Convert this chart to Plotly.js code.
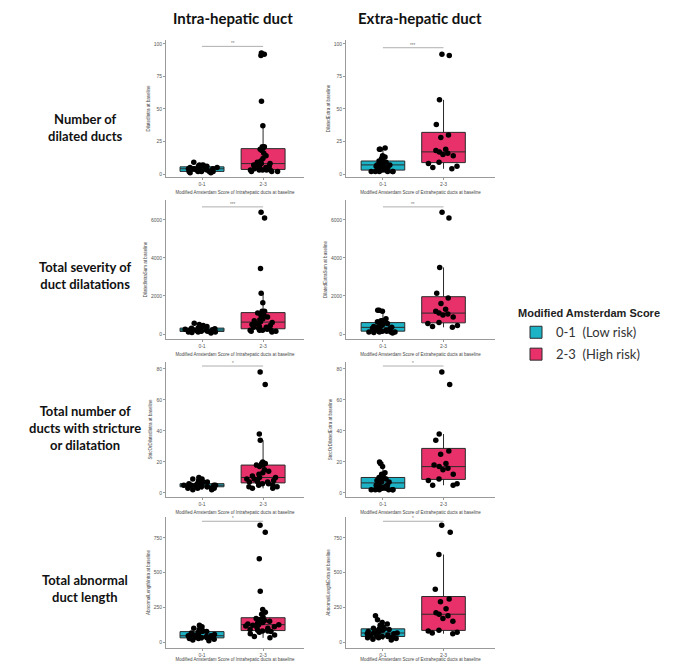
<!DOCTYPE html>
<html><head><meta charset="utf-8">
<script src="https://cdn.plot.ly/plotly-3.0.1.min.js"></script>
<style>html,body{margin:0;padding:0;background:#fff}#c{width:676px;height:662px}</style>
</head><body><div id="c"></div>
<script>
// ---- categories / labels ----
const groups = ["0-1", "2-3"];
const legendNames = ["0-1  (Low risk)", "2-3  (High risk)"];
const colTitles = ["Intra-hepatic duct", "Extra-hepatic duct"];
const rowTitles = ["Number of<br>dilated ducts", "Total severity of<br>duct dilatations",
  "Total number of<br>ducts with stricture<br>or dilatation", "Total abnormal<br>duct length"];
const yTitlesIntra = ["DilatedIntra at baseline", "DilatedIntraSum at baseline", "StricOrDilatedIntra at baseline", "AbnormalLengthIntra at baseline"];
const yTitlesExtra = ["DilatedExtra at baseline", "DilatedExtraSum at baseline", "StricOrDilatedExtra at baseline", "AbnormalLengthExtra at baseline"];
const xTitleIntra = "Modified Amsterdam Score of Intrahepatic ducts at baseline";
const xTitleExtra = "Modified Amsterdam Score of Extrahepatic ducts at baseline";
const tickVals = [[0,25,50,75,100],[0,2000,4000,6000],[0,20,40,60,80],[0,250,500,750]];
const sigIntra = ["**", "***", "*", "*"];
const sigExtra = ["***", "**", "*", "*"];

// ---- values ----
// Row 1: number of dilated ducts
const intraNumLow  = [1,1,2,2,2,2,2,3,3,3,4,4,4,4,4,5,5,5,6,6,6,7,7,9];
const intraNumHigh = [2,2,2,3,3,3,3,3,4,4,5,5,6,7,7,8,8,9,10,12,14,16,18,19,20,21,21,37,56,91,92,93];
const extraNumLow  = [2,2,2,2,2,2,3,3,3,3,5,5,5,6,6,7,7,7,8,8,9,9,10,10,10,12,13,14,19,19,20];
const extraNumHigh = [4,5,6,8,9,14,15,16,17,18,19,28,30,38,57,91,92];
// Row 2: total severity of duct dilatations
const intraSevLow  = [50,80,100,100,100,120,150,150,180,200,200,200,220,250,250,280,300,300,320,350,400,450,500,560];
const intraSevHigh = [100,150,150,200,200,200,200,250,300,350,350,400,450,500,550,600,650,700,750,800,900,950,1000,1100,1150,1200,1200,1650,2150,3450,6100,6400];
const extraSevLow  = [50,80,100,100,100,100,150,150,150,200,200,250,300,300,350,350,400,400,450,500,550,600,600,650,700,700,800,1200,1250,1250];
const extraSevHigh = [350,400,450,550,600,900,1000,1050,1100,1200,1300,1600,1900,2150,3500,6100,6400];
// Row 3: total number of ducts with stricture or dilatation
const intraStrLow  = [2,2,3,3,3,3,4,4,4,4,4,5,5,5,5,5,6,6,6,6,7,7,8,9,9,10];
const intraStrHigh = [3,3,4,4,5,5,6,6,7,7,7,8,8,9,9,10,10,11,12,13,14,15,17,18,18,19,19,20,34,38,70,78];
const extraStrLow  = [2,2,2,2,2,2,3,3,3,3,4,4,5,5,6,7,7,8,8,9,9,10,10,10,11,12,13,17,19,20];
const extraStrHigh = [5,5,6,8,9,12,15,16,17,18,19,25,27,34,38,70,78];
// Row 4: total abnormal duct length
const intraLenLow  = [10,15,20,25,25,30,30,30,35,40,40,45,45,45,50,55,60,65,70,75,75,80,90,100,110,120];
const intraLenHigh = [30,40,50,60,70,75,80,80,85,90,100,105,110,115,120,125,125,130,135,140,150,155,160,170,180,200,215,235,365,600,790,840];
const extraLenLow  = [15,20,25,30,30,35,40,40,40,45,50,55,60,60,65,65,70,75,80,85,90,95,95,100,110,120,130,140,160,190];
const extraLenHigh = [60,65,70,80,85,150,170,190,200,210,240,290,310,380,630,790,840];

const panels = [
  [[intraNumLow, intraNumHigh], [extraNumLow, extraNumHigh]],
  [[intraSevLow, intraSevHigh], [extraSevLow, extraSevHigh]],
  [[intraStrLow, intraStrHigh], [extraStrLow, extraStrHigh]],
  [[intraLenLow, intraLenHigh], [extraLenLow, extraLenHigh]]
];

// ---- layout geometry (pixels) ----
const W = 676, H = 662;
const colPx = [[166, 304], [346, 495]];
const colRange = [[-0.59, 1.67], [-0.61, 1.85]];
const rowPx = [[40, 177], [200, 339], [362, 497], [517, 648]];
const rowRange = [[-2.3, 103], [-263, 7050], [-2.6, 84.5], [-43, 900]];
const bracketFactor = [1.055, 1.045, 1.05, 1.035];
const fills = ["#1db3c6", "#e8316b"];

const traces = [];
const layout = {
  width: W, height: H, margin: {l: 0, r: 0, t: 0, b: 0},
  paper_bgcolor: "#fff", plot_bgcolor: "#fff",
  showlegend: true, boxmode: "overlay",
  legend: {
    x: 516 / W, y: 1 - 303 / H, xanchor: "left", yanchor: "top",
    title: {text: "<b>Modified Amsterdam Score</b>", font: {family: "Liberation Sans", size: 11, color: "#222"}},
    font: {family: "Lato", size: 13, color: "#333"},
    tracegroupgap: 2, itemwidth: 30
  },
  annotations: [], shapes: []
};

let k = 0;
for (let r = 0; r < 4; r++) {
  for (let c = 0; c < 2; c++) {
    k++;
    const xa = "x" + (k === 1 ? "" : k), ya = "y" + (k === 1 ? "" : k);
    const xaKey = "xaxis" + (k === 1 ? "" : k), yaKey = "yaxis" + (k === 1 ? "" : k);
    const data = panels[r][c];
    for (let g = 0; g < 2; g++) {
      traces.push({
        type: "box", y: data[g], x: data[g].map(() => groups[g]),
        xaxis: xa, yaxis: ya, name: legendNames[g], legendgroup: "g" + g,
        showlegend: k === 1,
        boxpoints: "all", jitter: 0.85, pointpos: 0, width: 0.72, whiskerwidth: 0,
        fillcolor: fills[g],
        line: {color: "#2a2a2a", width: 1},
        marker: {color: "#000", size: 5.5, line: {width: 0}},
        hoverinfo: "skip"
      });
    }
    layout[xaKey] = {
      domain: [colPx[c][0] / W, colPx[c][1] / W], anchor: ya,
      type: "category", categoryorder: "array", categoryarray: groups,
      range: colRange[c], showline: true, linecolor: "#9a9a9a", linewidth: 1,
      ticks: "outside", ticklen: 2, tickcolor: "#9a9a9a",
      tickfont: {family: "Liberation Sans", size: 5, color: "#555"},
      showgrid: false, zeroline: false, fixedrange: true,
      title: {text: c === 0 ? xTitleIntra : xTitleExtra, standoff: 4,
        font: {family: "Liberation Sans", size: 4.5, color: "#444"}}
    };
    layout[yaKey] = {
      domain: [1 - rowPx[r][1] / H, 1 - rowPx[r][0] / H], anchor: xa,
      range: rowRange[r], tickvals: tickVals[r],
      showline: true, linecolor: "#9a9a9a", linewidth: 1,
      ticks: "outside", ticklen: 2, tickcolor: "#9a9a9a",
      tickfont: {family: "Liberation Sans", size: 5, color: "#555"},
      showgrid: false, zeroline: false, fixedrange: true,
      title: {text: c === 0 ? yTitlesIntra[r] : yTitlesExtra[r], standoff: 3,
        font: {family: "Liberation Sans", size: 4.5, color: "#444"}}
    };
    // significance bracket
    const allVals = data[0].concat(data[1]);
    const yb = Math.max.apply(null, allVals) * bracketFactor[r];
    layout.shapes.push({type: "line", xref: xa, yref: ya, x0: groups[0], x1: groups[1],
      y0: yb, y1: yb, line: {color: "#999", width: 0.8}});
    layout.annotations.push({xref: xa, yref: ya, x: 0.5, y: yb, text: c === 0 ? sigIntra[r] : sigExtra[r],
      showarrow: false, yanchor: "bottom", yshift: -2, font: {family: "Liberation Sans", size: 4.5, color: "#777"}});
  }
}

// column titles
const colCenters = [233, 420];
for (let c = 0; c < 2; c++) {
  layout.annotations.push({xref: "paper", yref: "paper", x: colCenters[c] / W, y: 1 - 18 / H,
    text: "<b>" + colTitles[c] + "</b>", showarrow: false, xanchor: "center", yanchor: "middle",
    font: {family: "Lato", size: 15, color: "#111"}});
}
// row titles
const rowCenters = [128, 275, 428, 588];
for (let r = 0; r < 4; r++) {
  layout.annotations.push({xref: "paper", yref: "paper", x: 85 / W, y: 1 - rowCenters[r] / H,
    text: "<b>" + rowTitles[r] + "</b>", showarrow: false, xanchor: "center", yanchor: "middle",
    align: "center", font: {family: "Lato", size: 13, color: "#111"}});
}

Plotly.newPlot("c", traces, layout, {staticPlot: true, displayModeBar: false});
</script></body></html>
